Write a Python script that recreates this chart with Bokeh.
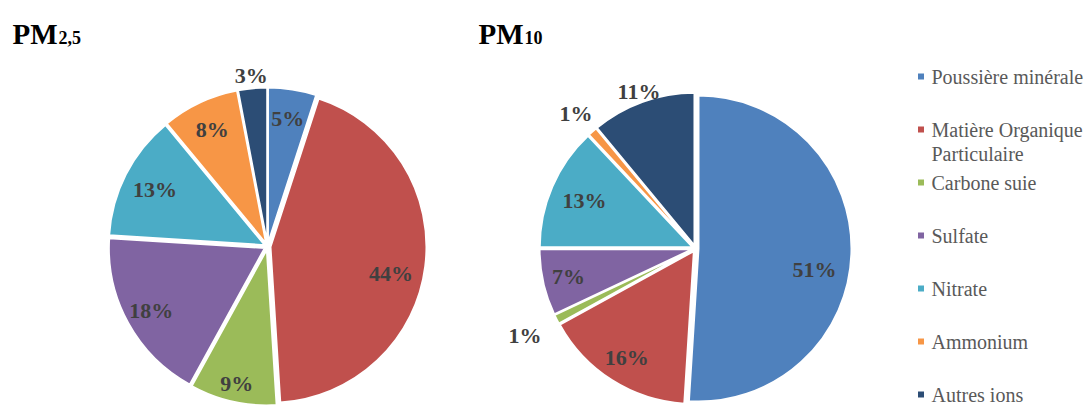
import textwrap
import numpy as np
from bokeh.plotting import figure
from bokeh.models import Range1d
from bokeh.core.properties import value
from bokeh.embed import file_html
from bokeh.resources import INLINE

# ---- data ----
categories = ["Poussière minérale", "Matière Organique Particulaire", "Carbone suie",
              "Sulfate", "Nitrate", "Ammonium", "Autres ions"]
pm25_values = [5, 44, 9, 18, 13, 8, 3]
pm10_values = [51, 16, 1, 7, 13, 1, 11]
titles = [("PM", "2,5"), ("PM", "10")]

# ---- styles / label placement ----
colors = ["#4F81BD", "#C0504D", "#9BBB59", "#8064A2", "#4BACC6", "#F79646", "#2C4D75"]
pm25_label_r = [0.83, 0.81, 0.90, 0.85, 0.81, 0.83, 1.10]
pm25_label_da = [0, 5, 0, 0, 0, 0, 0]
pm10_label_r = [0.79, 0.84, 1.25, 0.85, 0.79, 1.18, 1.09]
pm10_label_da = [8, 0, 0, 0, 0, 0, 0]
SERIF = value("Liberation Serif")

W, H = 1088, 407
p = figure(width=W, height=H, x_range=Range1d(0, W), y_range=Range1d(0, H),
           output_backend="svg", toolbar_location=None,
           x_axis_location=None, y_axis_location=None, min_border=0,
           outline_line_color=None)
p.grid.visible = False


def X(ix):
    return ix


def Y(iy):
    return H - iy


def pie(vals, cx, cy, r, label_r, label_da, explode=3.0):
    v = np.array(vals, dtype=float)
    frac = v / v.sum()
    f1 = np.cumsum(frac)
    f0 = f1 - frac
    mid = np.pi / 2 - np.pi * (f0 + f1)
    xs = cx + explode * np.cos(mid)
    ys = cy + explode * np.sin(mid)
    p.wedge(x=xs, y=ys, radius=r,
            start_angle=np.pi / 2 - 2 * np.pi * f1,
            end_angle=np.pi / 2 - 2 * np.pi * f0,
            direction="anticlock", fill_color=colors,
            line_color="white", line_width=2)
    lr = np.array(label_r) * r
    la = mid - np.radians(label_da)
    p.text(x=cx + lr * np.cos(la), y=cy + lr * np.sin(la),
           text=[f"{int(round(a))}%" for a in v],
           text_align="center", text_baseline="middle",
           text_font=SERIF, text_font_style="bold",
           text_font_size="22px", text_color="#404040")


pie(pm25_values, X(267), Y(246), 156, pm25_label_r, pm25_label_da)
pie(pm10_values, X(695), Y(248), 153, pm10_label_r, pm10_label_da)

# titles
for (main, sub), tx in zip(titles, [12, 478]):
    p.text(x=[X(tx)], y=[Y(33)], text=[main], text_font=SERIF,
           text_font_style="bold", text_font_size="29px",
           text_color="black", text_baseline="alphabetic")
    p.text(x=[X(tx + 46)], y=[Y(37)], text=[sub], text_font=SERIF,
           text_font_style="bold", text_font_size="18px",
           text_color="black", text_baseline="alphabetic")

# legend
leg_x, leg_y0, leg_step = 920.5, 76, 53.0
sq_x, sq_y, tx_x, tx_y, tx_t = [], [], [], [], []
for i, cat in enumerate(categories):
    yy = leg_y0 + leg_step * i
    sq_x.append(X(leg_x))
    sq_y.append(Y(yy))
    for j, line in enumerate(textwrap.wrap(cat, 18)):
        tx_x.append(X(931))
        tx_y.append(Y(yy + 24 * j))
        tx_t.append(line)
p.rect(x=sq_x, y=sq_y, width=6, height=6, fill_color=colors, line_color=None)
p.text(x=tx_x, y=tx_y, text=tx_t, text_font=SERIF, text_font_size="20px",
       text_color="#595959", text_baseline="middle", text_align="left")

open("out.html", "w").write(file_html(p, INLINE))
